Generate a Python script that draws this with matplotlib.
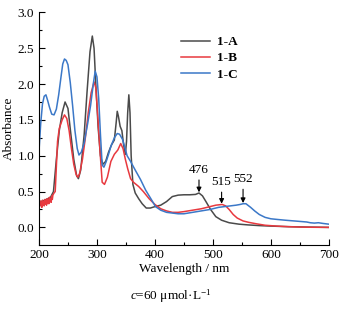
import matplotlib
matplotlib.use('Agg')
import matplotlib.pyplot as plt
from matplotlib.ticker import MultipleLocator

plt.rcParams['font.family'] = ['Liberation Serif', 'DejaVu Serif']
plt.rcParams['mathtext.fontset'] = 'custom'
plt.rcParams['mathtext.rm'] = 'Liberation Serif'
plt.rcParams['mathtext.it'] = 'Liberation Serif:italic'

# 1-A
wl_a = [200, 210, 220, 225, 230, 235, 240, 245, 250, 255, 260, 265, 268, 272, 278,
        283, 288, 292, 295, 298, 302, 306, 310, 315, 320, 325, 330, 333, 335, 337,
        340, 343, 346, 349, 351, 353, 355, 357, 359, 362, 366, 372, 378, 385, 392,
        400, 410, 420, 430, 440, 450, 460, 470, 476, 482, 488, 496, 505, 515, 528,
        545, 560, 580, 600, 630, 660, 700]
abs_a = [0.35, 0.38, 0.42, 0.5, 0.95, 1.35, 1.6, 1.75, 1.66, 1.3, 0.95, 0.72, 0.68, 0.8, 1.3,
         1.9, 2.45, 2.67, 2.5, 2.0, 1.4, 1.0, 0.88, 0.92, 1.05, 1.15, 1.22, 1.45, 1.62, 1.55,
         1.41, 1.35, 1.15, 1.02, 1.2, 1.6, 1.85, 1.6, 1.0, 0.6, 0.48, 0.4, 0.33, 0.27, 0.27,
         0.29, 0.31, 0.36, 0.43, 0.45, 0.455, 0.455, 0.46, 0.48, 0.44, 0.36, 0.25, 0.15, 0.1, 0.065,
         0.045, 0.035, 0.025, 0.018, 0.01, 0.005, 0.0]

# 1-B
wl_b = [200, 201, 202, 203, 204, 205, 206, 207, 208, 209, 210, 211, 212, 213, 214,
        215, 216, 217, 218, 219, 220, 221, 222, 223, 224, 226, 228, 230, 232, 235,
        240, 244, 248, 252, 256, 260, 264, 267, 270, 275, 280, 285, 290, 295, 298,
        301, 305, 309, 313, 318, 324, 330, 336, 341, 345, 349, 353, 358, 363, 372,
        380, 390, 400, 410, 420, 430, 440, 450, 465, 480, 495, 505, 516, 522, 528,
        535, 542, 552, 562, 575, 590, 610, 630, 650, 670, 700]
abs_b = [0.34, 0.29, 0.37, 0.31, 0.35, 0.28, 0.38, 0.32, 0.36, 0.3, 0.39, 0.33, 0.37, 0.31, 0.4,
         0.34, 0.38, 0.33, 0.42, 0.36, 0.4, 0.35, 0.44, 0.39, 0.45, 0.48, 0.5, 0.85, 1.2, 1.38,
         1.5, 1.57, 1.52, 1.35, 1.1, 0.88, 0.74, 0.7, 0.75, 0.95, 1.25, 1.6, 1.88, 2.03, 1.95,
         1.6, 1.1, 0.63, 0.6, 0.7, 0.92, 1.02, 1.08, 1.17, 1.1, 0.95, 0.82, 0.68, 0.63, 0.57,
         0.5, 0.4, 0.32, 0.26, 0.23, 0.21, 0.21, 0.22, 0.24, 0.26, 0.29, 0.31, 0.32, 0.3, 0.25,
         0.18, 0.13, 0.09, 0.07, 0.05, 0.03, 0.018, 0.01, 0.005, 0.002, 0.0]

# 1-C
wl_c = [200, 203, 206, 209, 212, 215, 218, 222, 226, 230, 234, 238, 241, 244, 247,
        250, 254, 258, 262, 266, 269, 273, 278, 284, 289, 294, 297, 300, 303, 306,
        309, 312, 316, 320, 324, 330, 335, 339, 344, 348, 352, 358, 366, 375, 384,
        393, 401, 410, 420, 430, 440, 450, 465, 480, 495, 510, 520, 530, 540, 547,
        552, 557, 565, 572, 580, 590, 600, 612, 625, 640, 655, 662, 668, 675, 682,
        690, 700]
abs_c = [1.06, 1.45, 1.72, 1.83, 1.85, 1.77, 1.68, 1.58, 1.57, 1.65, 1.85, 2.1, 2.28, 2.35, 2.33,
         2.27, 2.02, 1.7, 1.35, 1.1, 1.01, 1.05, 1.18, 1.45, 1.7, 2.02, 2.18, 2.1, 1.8, 1.3,
         0.87, 0.84, 0.92, 1.02, 1.13, 1.25, 1.31, 1.3, 1.23, 1.12, 1.0, 0.92, 0.8, 0.67, 0.52,
         0.4, 0.29, 0.24, 0.21, 0.2, 0.19, 0.19, 0.21, 0.23, 0.25, 0.28, 0.29, 0.3, 0.31, 0.32,
         0.33, 0.33, 0.28, 0.23, 0.18, 0.14, 0.12, 0.11, 0.1, 0.09, 0.08, 0.075, 0.065, 0.06, 0.065,
         0.055, 0.045]

series = [('1-A', wl_a, abs_a, '#4a4a4a'),
          ('1-B', wl_b, abs_b, '#e8393f'),
          ('1-C', wl_c, abs_c, '#3b78c8')]

# peak labels: (wavelength, absorbance at the curve, label height)
peaks = [(476, 0.48, 0.72), (515, 0.32, 0.55), (552, 0.33, 0.59)]

fs = 9.5

fig = plt.figure(figsize=(3.48, 3.10), dpi=100)
ax = fig.add_axes([0.112, 0.211, 0.833, 0.749])

for name, x, y, col in series:
    ax.plot(x, y, color=col, lw=1.1, label=name)

for wl, a, ty in peaks:
    ax.annotate(str(wl), xy=(wl, a + 0.01), xytext=(wl, ty),
                ha='center', va='bottom', fontsize=fs,
                arrowprops=dict(arrowstyle='-|>', color='black', lw=0.8,
                                mutation_scale=7, shrinkA=1, shrinkB=0))

ax.set_xlim(200, 700)
ax.set_ylim(-0.24, 3.0)
ax.xaxis.set_major_locator(MultipleLocator(100))
ax.xaxis.set_minor_locator(MultipleLocator(50))
ax.yaxis.set_major_locator(MultipleLocator(0.5))
ax.yaxis.set_minor_locator(MultipleLocator(0.25))
ax.tick_params(which='both', direction='in', labelsize=fs, width=0.8)
ax.tick_params(which='major', length=4)
ax.tick_params(which='minor', length=2.5)
ax.yaxis.set_major_formatter(matplotlib.ticker.FormatStrFormatter('%.1f'))
for s in ('top', 'right'):
    ax.spines[s].set_visible(False)
ax.spines['left'].set_linewidth(0.8)
ax.spines['bottom'].set_linewidth(0.8)

ax.set_xlabel('Wavelength / nm', fontsize=fs, labelpad=1)
ax.set_ylabel('Absorbance', fontsize=fs, labelpad=2)

leg = ax.legend(loc='upper left', bbox_to_anchor=(0.45, 0.95), frameon=False,
                handlelength=2.2, labelspacing=0.3, handletextpad=0.5,
                prop={'weight': 'bold', 'size': fs})

fig.text(0.49, 0.045, r'$\it{c}$=60 μmol·L$^{-1}$', ha='center', va='center',
         fontsize=fs)

fig.savefig('out.png', dpi=100)
